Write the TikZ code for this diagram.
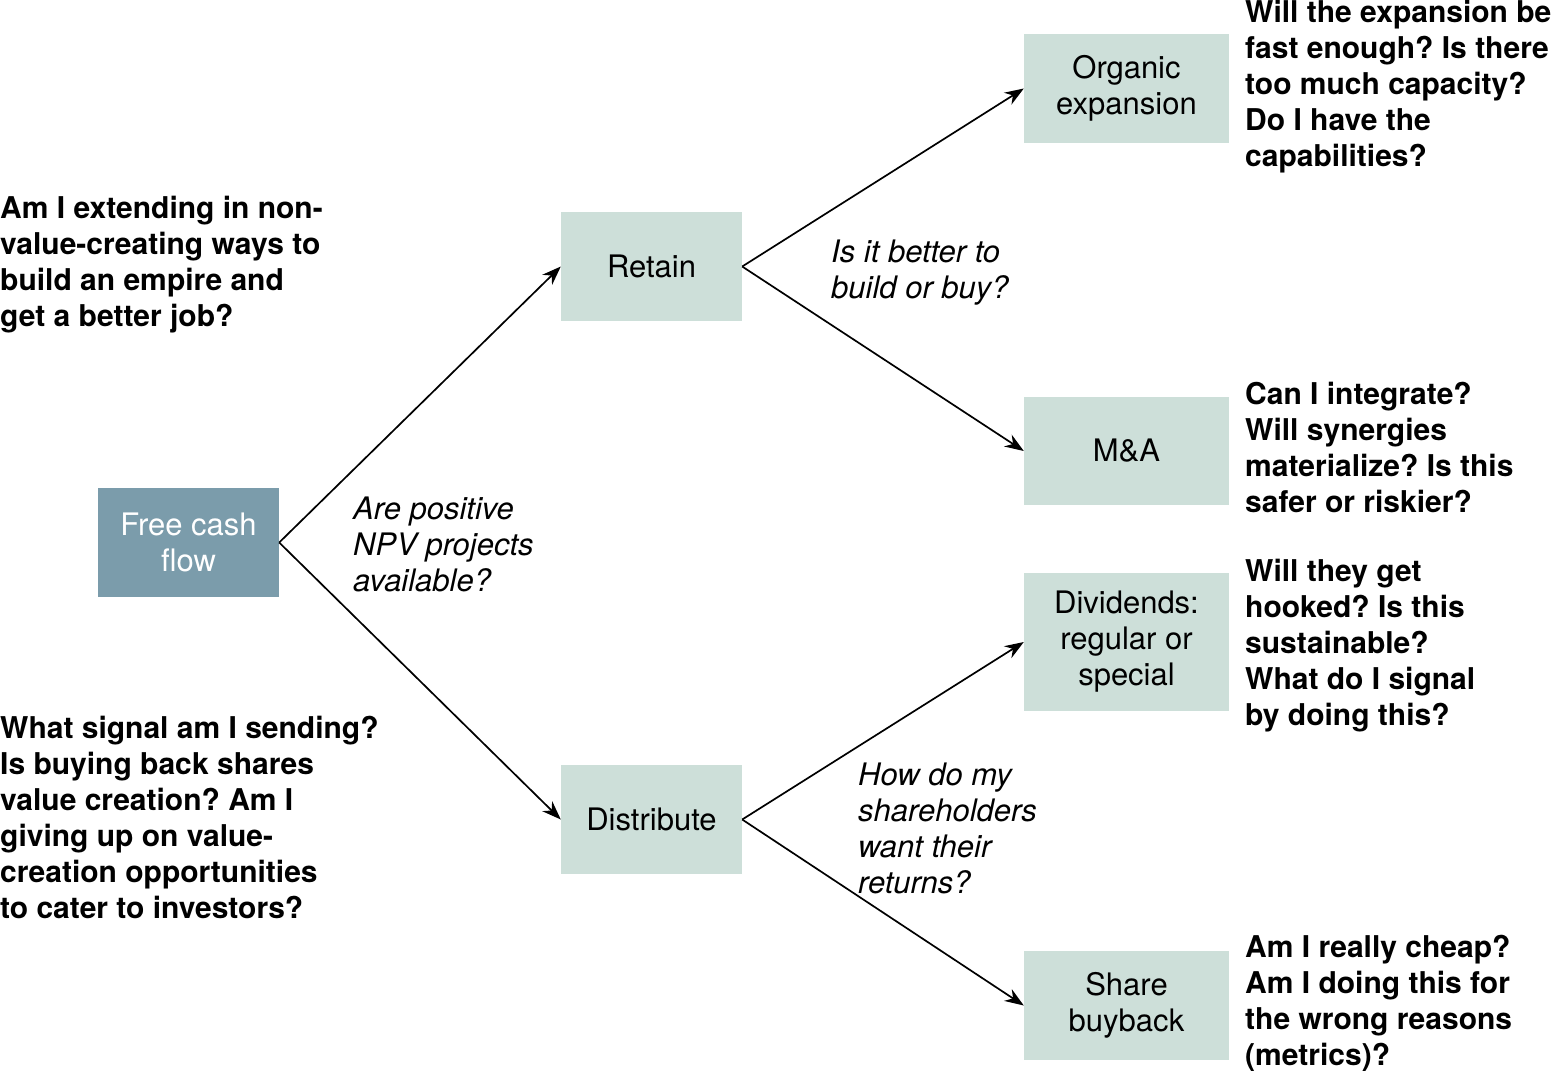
\documentclass[tikz,border=0pt]{standalone}
\usepackage{fontspec}
\setmainfont{TeX Gyre Heros}
\usetikzlibrary{arrows.meta}
\definecolor{lightbox}{HTML}{CDDFD9}
\definecolor{darkbox}{HTML}{7B9CAB}
\frenchspacing
\begin{document}
\begin{tikzpicture}[x=1pt,y=-1pt,
  box/.style={fill=lightbox,draw=none,inner sep=0pt,align=center,font=\fontsize{31}{36}\selectfont},
  q/.style={anchor=west,inner sep=0pt,align=left,font=\bfseries\fontsize{30}{36}\selectfont},
  lbl/.style={anchor=west,inner sep=0pt,align=left,font=\itshape\fontsize{31}{36}\selectfont},
  arr/.style={-{Stealth[length=19pt,width=14pt]},line width=1.7pt}]
\useasboundingbox (0,0) rectangle (1551,1072);
% boxes
\node[box,fill=darkbox,text=white,minimum width=181pt,minimum height=109pt] (fcf) at (188.5,542.5) {Free cash\\flow};
\node[box,minimum width=181pt,minimum height=109pt] (ret) at (651.5,266.5) {Retain};
\node[box,minimum width=181pt,minimum height=109pt] (dis) at (651.5,819.5) {Distribute};
\node[box,minimum width=205pt,minimum height=109pt] (org) at (1126.5,88.5) {Organic\\expansion};
\node[box,minimum width=205pt,minimum height=108pt] (ma) at (1126.5,451) {M\&A};
\node[box,minimum width=205pt,minimum height=138pt] (div) at (1126.5,642) {Dividends:\\regular or\\special};
\node[box,minimum width=205pt,minimum height=109pt] (sb) at (1126.5,1005.5) {Share\\buyback};
% arrows
\draw[arr] (fcf.east) -- (ret.west);
\draw[arr] (fcf.east) -- (dis.west);
\draw[arr] (ret.east) -- (org.west);
\draw[arr] (ret.east) -- (ma.west);
\draw[arr] (dis.east) -- (div.west);
\draw[arr] (dis.east) -- (sb.west);
% italic labels
\node[lbl] (l1) at (353,544) {Are positive\\NPV projects\\available?};
\node[lbl] (l2) at (831,273) {Is it better to\\build or buy?};
\node[lbl] (l3) at (858,828) {How do my\\shareholders\\want their\\returns?};
% questions
\node[q] (q1) at (0,265) {Am I extending in non-\\value-creating ways to\\build an empire and\\get a better job?};
\node[q] (q2) at (0,817) {What signal am I sending?\\Is buying back shares\\value creation? Am I\\giving up on value-\\creation opportunities\\to cater to investors?};
\node[q] (q3) at (1245,87) {Will the expansion be\\fast enough? Is there\\too much capacity?\\Do I have the\\capabilities?};
\node[q] (q4) at (1245,447) {Can I integrate?\\Will synergies\\materialize? Is this\\safer or riskier?};
\node[q] (q5) at (1245,646) {Will they get\\hooked? Is this\\sustainable?\\What do I signal\\by doing this?};
\node[q] (q6) at (1245,1003) {Am I really cheap?\\Am I doing this for\\the wrong reasons\\(metrics)?};
\end{tikzpicture}
\end{document}
